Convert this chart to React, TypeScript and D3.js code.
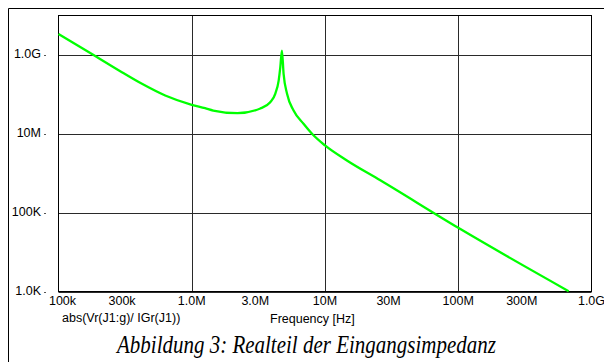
import React from "react";
import * as d3 from "d3";

const freqHz = [1e5, 1.86e5, 2.99e5, 4.23e5, 6.32e5, 1e6, 1.26e6, 1.45e6, 2.2e6, 3.27e6, 3.88e6, 4.24e6, 4.49e6, 4.62e6, 4.75e6, 4.89e6, 5.19e6, 5.81e6, 6.9e6, 7.99e6, 1.0e7, 1.46e7, 2.6e7, 1.0e8, 6.74e8];
const impedance = [3.4e9, 9.66e8, 3.65e8, 1.85e8, 9.35e7, 5.43e7, 4.46e7, 3.89e7, 3.33e7, 4.38e7, 6.3e7, 1.05e8, 2.24e8, 4.9e8, 1.29e9, 3.32e8, 1.03e8, 3.89e7, 1.79e7, 1.0e7, 5.05e6, 2.1e6, 6.6e5, 4.12e4, 1.02e3];

const xTickValues = [1e5, 3e5, 1e6, 3e6, 1e7, 3e7, 1e8, 3e8, 1e9];
const xTickLabels = ["100k", "300k", "1.0M", "3.0M", "10M", "30M", "100M", "300M", "1.0G"];
const xGridValues = [1e6, 1e7, 1e8];
const yTickValues = [1e3, 1e5, 1e7, 1e9];
const yTickLabels = ["1.0K", "100K", "10M", "1.0G"];

const traceLabel = "abs(Vr(J1:g)/ IGr(J1))";
const xAxisTitle = "Frequency [Hz]";
const caption = "Abbildung 3: Realteil der Eingangsimpedanz";

const W = 604;
const H = 362;
const plot = { left: 58.5, right: 591.5, top: 15.5, bottom: 291.5 };

export default function App() {
  const x = d3.scaleLog().domain([1e5, 1e9]).range([plot.left, plot.right]);
  const y = d3.scaleLog().domain([1e3, 1e10]).range([plot.bottom, plot.top]);
  const pts = freqHz.map((f, i) => [f, impedance[i]] as [number, number]);
  const line = d3
    .line<[number, number]>()
    .x((d) => x(d[0]))
    .y((d) => y(d[1]))
    .curve(d3.curveMonotoneX);
  const sans = "'Liberation Sans', Arial, sans-serif";
  const gridColor = "#2a2a2a";

  return (
    <svg
      width={W}
      height={H}
      style={{ position: "absolute", left: 0, top: 0, background: "#fff" }}
    >
      {/* outer frame */}
      <line x1={8.5} y1={8.5} x2={W} y2={8.5} stroke="#000" strokeWidth={1} />
      <line x1={8.5} y1={8.5} x2={8.5} y2={H} stroke="#000" strokeWidth={1} />

      {/* grid */}
      {xGridValues.map((v) => (
        <line
          key={"gx" + v}
          x1={Math.round(x(v)) + 0.5}
          x2={Math.round(x(v)) + 0.5}
          y1={plot.top}
          y2={plot.bottom}
          stroke={gridColor}
          strokeWidth={1}
        />
      ))}
      {yTickValues.map((v) => (
        <line
          key={"gy" + v}
          x1={plot.left}
          x2={plot.right}
          y1={Math.round(y(v)) + 0.5}
          y2={Math.round(y(v)) + 0.5}
          stroke={gridColor}
          strokeWidth={1}
        />
      ))}

      {/* plot border */}
      <rect
        x={plot.left}
        y={plot.top}
        width={plot.right - plot.left}
        height={plot.bottom - plot.top}
        fill="none"
        stroke="#000"
        strokeWidth={1}
      />

      {/* curve */}
      <path d={line(pts) || ""} fill="none" stroke="#00ff00" strokeWidth={2.3} />

      {/* y ticks */}
      {yTickValues.map((v, i) => (
        <g key={"yt" + v}>
          <text
            x={41}
            y={y(v) - 1}
            textAnchor="end"
            dominantBaseline="central"
            fontFamily={sans}
            fontSize={12.5}
            fill="#000"
          >
            {yTickLabels[i]}
          </text>
          <line
            x1={44}
            x2={46}
            y1={Math.round(y(v)) + 0.5}
            y2={Math.round(y(v)) + 0.5}
            stroke="#555"
            strokeWidth={1}
          />
        </g>
      ))}

      {/* x ticks */}
      {xTickValues.map((v, i) => (
        <text
          key={"xt" + v}
          x={i === 0 ? x(v) + 4 : x(v)}
          y={304.5}
          textAnchor="middle"
          fontFamily={sans}
          fontSize={12.5}
          fill="#000"
        >
          {xTickLabels[i]}
        </text>
      ))}

      {/* axis labels */}
      <text x={62} y={322} fontFamily={sans} fontSize={12.5} fill="#000">
        {traceLabel}
      </text>
      <text x={270} y={323} fontFamily={sans} fontSize={12.5} fill="#000">
        {xAxisTitle}
      </text>

      {/* caption */}
      <text
        transform="translate(117,353) scale(1,1.18)"
        x={0}
        y={0}
        fontFamily="'Liberation Serif', 'Times New Roman', serif"
        fontStyle="italic"
        fontSize={21}
        fill="#000"
      >
        {caption}
      </text>
    </svg>
  );
}
